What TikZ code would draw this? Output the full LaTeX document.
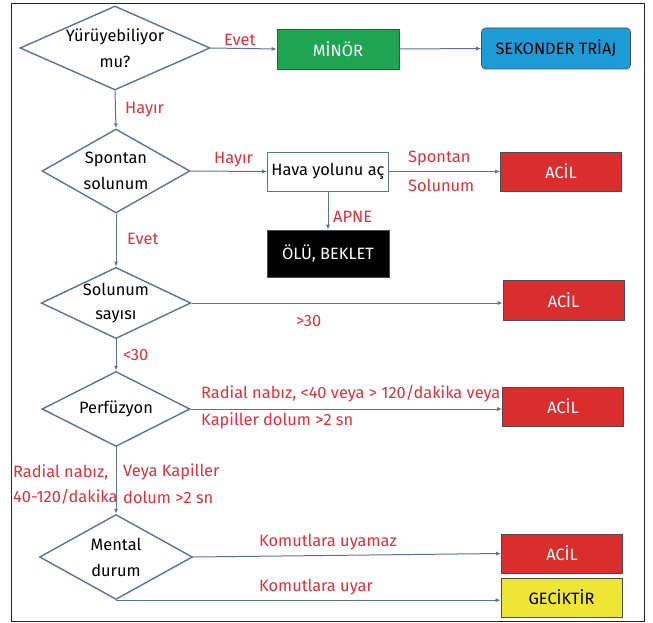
\documentclass[tikz,border=0pt]{standalone}
\usepackage{fontspec}
\setmainfont{Fira Sans}
\usetikzlibrary{shapes.geometric,arrows.meta}

\definecolor{linegray}{HTML}{5E7298}
\definecolor{labelred}{HTML}{E0303A}
\definecolor{minorgreen}{HTML}{1FA452}
\definecolor{triajblue}{HTML}{1C9BD6}
\definecolor{acilred}{HTML}{DA2E2E}
\definecolor{geciksari}{HTML}{EEE634}

\begin{document}
\begin{tikzpicture}[x = 1pt, y = -1pt,
        every node/.style = {font = \fontsize{16.4}{26}\selectfont},
        soru/.style = {diamond, draw = linegray, line width = 1.4pt, fill = white,
            inner sep = 0pt, align = center},
        kutu/.style = {rectangle, draw = black!70, line width = 0.6pt,
            minimum width = 121pt, minimum height = 39pt, inner sep = 0pt},
        acil/.style = {kutu, fill = acilred, text = white},
        etiket/.style = {text = labelred, inner sep = 0pt, anchor = west},
        ok/.style = {draw = linegray, line width = 1pt, -{Latex[length = 5pt, width = 4pt]}}]

        \useasboundingbox (0, 0) rectangle (653, 623);
        \draw[line width = 0.8pt, black!85] (11, 3) rectangle (644, 621);

        % karar kutulari
        \node[soru, minimum width = 190pt, minimum height = 84pt, shape aspect = 2.26] (yuru) at (115, 48) {Yürüyebiliyor\\mu?};
        \node[soru, minimum width = 148pt, minimum height = 84pt, shape aspect = 1.76] (spon) at (116, 171) {Spontan\\solunum};
        \node[soru, minimum width = 147pt, minimum height = 70pt, shape aspect = 2.1,
            font = \fontsize{16.4}{24}\selectfont] (sayi) at (116, 303) {Solunum\\sayısı};
        \node[soru, minimum width = 148pt, minimum height = 75pt, shape aspect = 1.97] (perf) at (116, 409) {Perfüzyon};
        \node[soru, minimum width = 153pt, minimum height = 85pt, shape aspect = 1.8] (ment) at (116, 557) {Mental\\durum};

        % sonuc kutulari
        \node[kutu, fill = minorgreen, text = white, minimum width = 122pt, minimum height = 40pt] (minor) at (338, 49) {MİNÖR};
        \node[kutu, fill = triajblue, rounded corners = 4pt, minimum width = 149pt, minimum height = 41pt] (triaj) at (556, 48.5) {SEKONDER TRİAJ};
        \node[kutu, fill = white, draw = linegray] (hava) at (328, 171.5) {Hava yolunu aç};
        \node[acil] (acila) at (561, 171.5) {ACİL};
        \node[kutu, fill = black, text = white, minimum width = 122pt, minimum height = 47pt] (olu) at (328, 253.5) {ÖLÜ, BEKLET};
        \node[acil, minimum height = 40pt] (acilb) at (563.5, 300) {ACİL};
        \node[acil] (acilc) at (563, 406.5) {ACİL};
        \node[acil] (acild) at (562, 553.5) {ACİL};
        \node[kutu, fill = geciksari, minimum height = 39pt] (gecik) at (561.5, 597.5) {GECİKTİR};

        % oklar
        \draw[ok] (yuru.east) -- (minor.west);
        \draw[ok] (minor.east) -- (triaj.west);
        \draw[ok] (yuru.south) -- (spon.north);
        \draw[ok] (spon.east) -- (hava.west);
        \draw[ok] (hava.east) -- (acila.west);
        \draw[ok] (hava.south) -- (olu.north);
        \draw[ok] (spon.south) -- (sayi.north);
        \draw[ok] (sayi.east) -- (sayi.east -| acilb.west);
        \draw[ok] (sayi.south) -- (perf.north);
        \draw[ok] (perf.east) -- (perf.east -| acilc.west);
        \draw[ok] (perf.south) -- (ment.north);
        \draw[ok] (ment.east) -- (acild.west);
        \draw[ok] (ment.south) -- (ment.south -| gecik.west);

        % etiketler
        \node[etiket] (evet1) at (224, 40) {Evet};
        \node[etiket] (hayir1) at (125, 110) {Hayır};
        \node[etiket] (hayir2) at (214, 160) {Hayır};
        \node[etiket] (spon1) at (408, 158) {Spontan};
        \node[etiket] (spon2) at (408, 185) {Solunum};
        \node[etiket] (apne) at (333, 217) {APNE};
        \node[etiket] (evet2) at (127, 239) {Evet};
        \node[etiket] (ustu) at (296, 321) {>30};
        \node[etiket] (alti) at (123, 355) {<30};
        \node[etiket] (radial1) at (201, 394) {Radial nabız, <40 veya > 120/dakika veya};
        \node[etiket] (kapil1) at (201, 421) {Kapiller dolum >2 sn};
        \node[etiket] (radial2) at (13, 472) {Radial nabız,};
        \node[etiket] (dakika) at (13, 497) {40-120/dakika};
        \node[etiket] (kapil2) at (123, 472) {Veya Kapiller};
        \node[etiket] (dolum) at (123, 497) {dolum >2 sn};
        \node[etiket] (uyamaz) at (259, 542) {Komutlara uyamaz};
        \node[etiket] (uyar) at (259, 587) {Komutlara uyar};
    \end{tikzpicture}
\end{document}
